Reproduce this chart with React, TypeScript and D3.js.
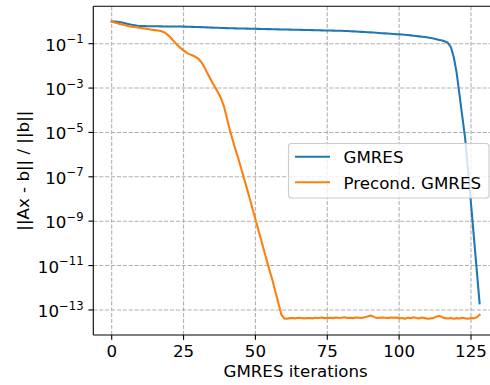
import { useEffect, useRef } from 'react';
import * as d3 from 'd3';

const WIDTH = 490;
const HEIGHT = 385;

// log10 of the relative residual per iteration
const gmresLog10 = [
  0, 0, -0.01, -0.03, -0.06, -0.09, -0.12, -0.15, -0.17, -0.19,
  -0.2, -0.205, -0.21, -0.212, -0.214, -0.216, -0.218, -0.22, -0.222, -0.224,
  -0.225, -0.226, -0.227, -0.228, -0.229, -0.23, -0.234, -0.238, -0.242, -0.246,
  -0.25, -0.255, -0.26, -0.265, -0.27, -0.275, -0.28, -0.285, -0.29, -0.295,
  -0.3, -0.303, -0.306, -0.309, -0.312, -0.315, -0.318, -0.321, -0.324, -0.327,
  -0.33, -0.333, -0.336, -0.339, -0.342, -0.345, -0.348, -0.351, -0.354, -0.357,
  -0.36, -0.363, -0.366, -0.369, -0.372, -0.375, -0.378, -0.381, -0.384, -0.387,
  -0.39, -0.393, -0.396, -0.399, -0.402, -0.405, -0.408, -0.411, -0.414, -0.417,
  -0.42, -0.426, -0.432, -0.438, -0.444, -0.45, -0.46, -0.468, -0.476, -0.484,
  -0.49, -0.499, -0.508, -0.517, -0.526, -0.535, -0.544, -0.553, -0.562, -0.571,
  -0.58, -0.59, -0.6, -0.612, -0.625, -0.64, -0.655, -0.67, -0.685, -0.7,
  -0.72, -0.745, -0.77, -0.8, -0.83, -0.86, -0.9, -0.97, -1.15, -1.6,
  -2.3, -3.3, -4.3, -5.3, -6.7, -8.2, -9.7, -11.2, -12.7,
];

const precondLog10 = [
  0, -0.04, -0.08, -0.12, -0.15, -0.18, -0.21, -0.23, -0.25, -0.27,
  -0.29, -0.31, -0.33, -0.35, -0.37, -0.39, -0.41, -0.43, -0.47, -0.55,
  -0.66, -0.8, -0.95, -1.08, -1.2, -1.3, -1.4, -1.47, -1.52, -1.58,
  -1.66, -1.8, -2.0, -2.25, -2.5, -2.75, -2.97, -3.2, -3.45, -3.8,
  -4.3, -4.85, -5.3, -5.75, -6.15, -6.6, -7.05, -7.5, -7.97, -8.44,
  -8.91, -9.38, -9.85, -10.32, -10.8, -11.25, -11.7, -12.2, -12.7, -13.2,
  -13.38, -13.4, -13.37, -13.36, -13.38, -13.35, -13.36, -13.38, -13.37, -13.36,
  -13.38, -13.35, -13.36, -13.34, -13.37, -13.36, -13.35, -13.37, -13.34, -13.36,
  -13.35, -13.33, -13.36, -13.35, -13.37, -13.34, -13.35, -13.36, -13.33, -13.3,
  -13.25, -13.3, -13.36, -13.35, -13.34, -13.35, -13.36, -13.34, -13.35, -13.34,
  -13.38, -13.36, -13.4, -13.35, -13.37, -13.33, -13.36, -13.38, -13.34, -13.37,
  -13.4, -13.38, -13.36, -13.3, -13.27, -13.33, -13.37, -13.39, -13.36, -13.4,
  -13.37, -13.39, -13.35, -13.38, -13.4, -13.36, -13.38, -13.33, -13.22,
];

const xTicks = [0, 25, 50, 75, 100, 125];
const yTickExponents = [-1, -3, -5, -7, -9, -11, -13];
const seriesNames = ['GMRES', 'Precond. GMRES'];
const seriesColors = ['#1f77b4', '#ff7f0e'];

const FONT = '"DejaVu Sans", sans-serif';
const FONT_SIZE = 16.67;

export default function App() {
  const svgRef = useRef<SVGSVGElement | null>(null);

  useEffect(() => {
    document.body.style.margin = '0';
    if (!svgRef.current) return;
    const svg = d3.select(svgRef.current);
    svg.selectAll('*').remove();

    const left = 93.3;
    const right = 498;
    const top = 6.3;
    const bottom = 335;

    const x = d3.scaleLinear().domain([-6.4, 134.4]).range([left, right]);
    const y = d3.scaleLog().domain([10 ** -14.13, 10 ** 0.685]).range([bottom, top]);

    svg.append('rect').attr('width', WIDTH).attr('height', HEIGHT).attr('fill', '#ffffff');

    svg
      .append('defs')
      .append('clipPath')
      .attr('id', 'plot-clip')
      .append('rect')
      .attr('x', left)
      .attr('y', top)
      .attr('width', right - left)
      .attr('height', bottom - top);

    // grid
    const grid = svg.append('g').attr('stroke', '#b0b0b0').attr('stroke-width', 1.1).attr('stroke-dasharray', '4.1 1.8');
    grid
      .selectAll('line.vx')
      .data(xTicks)
      .enter()
      .append('line')
      .attr('x1', (d) => x(d))
      .attr('x2', (d) => x(d))
      .attr('y1', top)
      .attr('y2', bottom);
    grid
      .selectAll('line.hy')
      .data(yTickExponents)
      .enter()
      .append('line')
      .attr('x1', left)
      .attr('x2', right)
      .attr('y1', (d) => y(10 ** d))
      .attr('y2', (d) => y(10 ** d));

    // lines
    const series = [gmresLog10, precondLog10];
    const line = d3
      .line<number>()
      .x((_, i) => x(i))
      .y((d) => y(10 ** d));
    const lines = svg.append('g').attr('clip-path', 'url(#plot-clip)');
    series.forEach((values, k) => {
      lines
        .append('path')
        .attr('d', line(values))
        .attr('fill', 'none')
        .attr('stroke', seriesColors[k])
        .attr('stroke-width', 2.08)
        .attr('stroke-linejoin', 'round')
        .attr('stroke-linecap', 'square');
    });

    // spines
    const spines = svg.append('g').attr('stroke', '#000').attr('stroke-width', 1.11).attr('fill', 'none');
    spines.append('line').attr('x1', left).attr('x2', left).attr('y1', top).attr('y2', bottom);
    spines.append('line').attr('x1', left).attr('x2', right).attr('y1', bottom).attr('y2', bottom);
    spines.append('line').attr('x1', left).attr('x2', right).attr('y1', top).attr('y2', top);

    // x ticks
    const xAxis = svg.append('g');
    xAxis
      .selectAll('line')
      .data(xTicks)
      .enter()
      .append('line')
      .attr('x1', (d) => x(d))
      .attr('x2', (d) => x(d))
      .attr('y1', bottom)
      .attr('y2', bottom + 4.86)
      .attr('stroke', '#000')
      .attr('stroke-width', 1.11);
    xAxis
      .selectAll('text')
      .data(xTicks)
      .enter()
      .append('text')
      .attr('x', (d) => x(d))
      .attr('y', 356.8)
      .attr('text-anchor', 'middle')
      .attr('font-family', FONT)
      .attr('font-size', FONT_SIZE)
      .attr('fill', '#000')
      .text((d) => d);

    // y ticks
    const yAxis = svg.append('g');
    yAxis
      .selectAll('line')
      .data(yTickExponents)
      .enter()
      .append('line')
      .attr('x1', left - 4.86)
      .attr('x2', left)
      .attr('y1', (d) => y(10 ** d))
      .attr('y2', (d) => y(10 ** d))
      .attr('stroke', '#000')
      .attr('stroke-width', 1.11);
    const yLabels = yAxis
      .selectAll('text')
      .data(yTickExponents)
      .enter()
      .append('text')
      .attr('x', left - 9.7)
      .attr('y', (d) => y(10 ** d) + 7)
      .attr('text-anchor', 'end')
      .attr('font-family', FONT)
      .attr('font-size', FONT_SIZE)
      .attr('fill', '#000');
    yLabels.append('tspan').text('10');
    yLabels
      .append('tspan')
      .attr('dy', -7.4)
      .attr('font-size', FONT_SIZE * 0.7)
      .text((d) => `\u2212${Math.abs(d)}`);

    // axis labels
    svg
      .append('text')
      .attr('x', (left + right) / 2)
      .attr('y', 376.8)
      .attr('text-anchor', 'middle')
      .attr('font-family', FONT)
      .attr('font-size', FONT_SIZE)
      .attr('fill', '#000')
      .text('GMRES iterations');
    svg
      .append('text')
      .attr('transform', `translate(28.8, ${(top + bottom) / 2}) rotate(-90)`)
      .attr('text-anchor', 'middle')
      .attr('font-family', FONT)
      .attr('font-size', FONT_SIZE)
      .attr('fill', '#000')
      .text('||Ax - b|| / ||b||');

    // legend
    const legend = svg.append('g');
    legend
      .append('rect')
      .attr('x', 288.5)
      .attr('y', 143.5)
      .attr('width', 200.5)
      .attr('height', 54.5)
      .attr('rx', 3)
      .attr('fill', 'rgba(255,255,255,0.8)')
      .attr('stroke', '#cccccc')
      .attr('stroke-width', 1.11);
    seriesNames.forEach((name, k) => {
      const cy = 156.7 + k * 25.6;
      legend
        .append('line')
        .attr('x1', 295)
        .attr('x2', 330)
        .attr('y1', cy)
        .attr('y2', cy)
        .attr('stroke', seriesColors[k])
        .attr('stroke-width', 2.08);
      legend
        .append('text')
        .attr('x', 343.5)
        .attr('y', cy + 6.6)
        .attr('font-family', FONT)
        .attr('font-size', FONT_SIZE)
        .attr('fill', '#000')
        .text(name);
    });
  }, []);

  return <svg ref={svgRef} width={WIDTH} height={HEIGHT} style={{ display: 'block' }} />;
}
